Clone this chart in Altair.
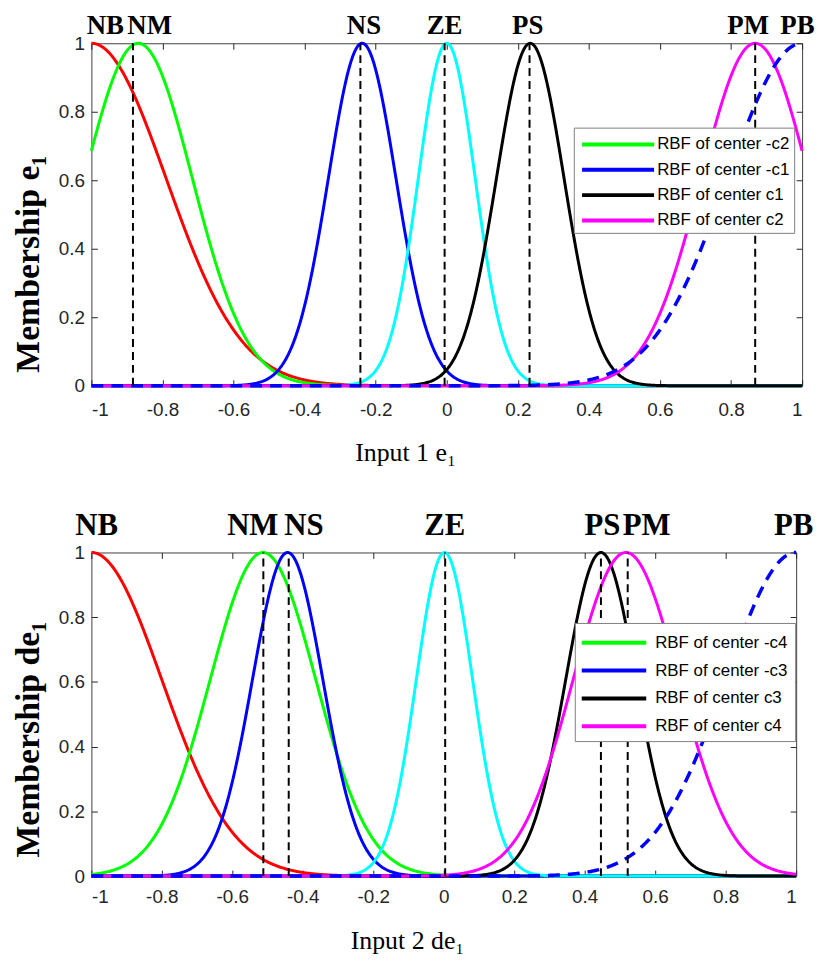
import altair as alt
import numpy as np
import pandas as pd

# ---------------- data ----------------
X_GRID = np.linspace(-1, 1, 801)

# panel 1 : Input 1 e1
p1_keys = ["NB", "-c2", "-c1", "ZE", "c1", "c2", "PB"]
p1_centers = [-1.0, -0.868, -0.238, 0.0, 0.235, 0.868, 1.0]
p1_sigmas = [0.21, 0.152, 0.095, 0.08, 0.095, 0.152, 0.21]
p1_legend = ["RBF of center -c2", "RBF of center -c1", "RBF of center c1", "RBF of center c2"]
p1_rules = [-0.883, -0.243, -0.006, 0.233, 0.868]
p1_tags = ["NB", "NM", "NS", "ZE", "PS", "PM", "PB"]
p1_tag_x = [-0.961, -0.836, -0.233, -0.006, 0.228, 0.848, 0.987]

# panel 2 : Input 2 de1
p2_keys = ["NB", "-c4", "-c3", "ZE", "c3", "c4", "PB"]
p2_centers = [-1.0, -0.513, -0.443, 0.002, 0.446, 0.517, 1.0]
p2_sigmas = [0.2, 0.15, 0.1, 0.08, 0.1, 0.15, 0.2]
p2_legend = ["RBF of center -c4", "RBF of center -c3", "RBF of center c3", "RBF of center c4"]
p2_rules = [-0.512, -0.44, 0.004, 0.446, 0.522]
p2_tags = ["NB", "NM", "NS", "ZE", "PS", "PM", "PB"]
p2_tag_x = [-0.985, -0.542, -0.397, 0.003, 0.45, 0.576, 0.993]

x_ticks = [-1, -0.8, -0.6, -0.4, -0.2, 0, 0.2, 0.4, 0.6, 0.8, 1]
y_ticks = [0, 0.2, 0.4, 0.6, 0.8, 1]

# colours in drawing order
series_colors = ["#FF0000", "#00FF00", "#0000FF", "#00FFFF", "#000000", "#FF00FF", "#0000FF"]
legend_colors = ["#00FF00", "#0000FF", "#000000", "#FF00FF"]

AX_COL = "#262626"
SANS = "Liberation Sans"
SERIF = "Liberation Serif"


def build_panel(keys, centers, sigmas, legend_labels, rules, tags, tag_x,
                ytitle, xtitle, W, H, leg, xtitle_x, ytitle_y, lab_pad_x,
                title_pad_x, title_pad_y, tag_size, tag_dy):
    rows = []
    leg_map = {k: lbl for k, lbl in zip(keys[1:3] + keys[4:6], legend_labels)}
    for k, c, s in zip(keys, centers, sigmas):
        yv = np.exp(-((X_GRID - c) ** 2) / (2 * s * s))
        for xv, yy in zip(X_GRID, yv):
            rows.append({"x": float(xv), "y": float(yy), "key": k,
                         "legend": leg_map.get(k, k)})
    df = pd.DataFrame(rows)

    xs = alt.Scale(domain=[-1, 1], nice=False, zero=False, padding=0)
    ys = alt.Scale(domain=[0, 1], nice=False, zero=False, padding=0)

    x_axis = alt.Axis(values=x_ticks, labelExpr="'' + datum.value", orient="bottom",
                      offset=-6, tickSize=6, domain=False, grid=False,
                      labelPadding=lab_pad_x, labelFont=SANS, labelFontSize=19,
                      labelColor=AX_COL, tickColor=AX_COL, tickWidth=1,
                      title=xtitle, titleFont=SERIF, titleFontSize=26,
                      titleFontWeight="normal", titleColor="black",
                      titlePadding=title_pad_x, titleX=xtitle_x)
    y_axis = alt.Axis(values=y_ticks, labelExpr="'' + datum.value", orient="left",
                      offset=-6, tickSize=6, domain=False, grid=False,
                      labelPadding=7, labelFont=SANS, labelFontSize=19,
                      labelColor=AX_COL, tickColor=AX_COL, tickWidth=1,
                      title=ytitle, titleFont=SERIF, titleFontSize=34,
                      titleFontWeight="bold", titleColor="black",
                      titlePadding=title_pad_y, titleY=ytitle_y)
    x_top = alt.Axis(values=x_ticks, orient="top", labels=False, offset=-6, tickSize=6,
                     domain=False, grid=False, tickColor=AX_COL, title=None)
    y_right = alt.Axis(values=y_ticks, orient="right", labels=False, offset=-6, tickSize=6,
                       domain=False, grid=False, tickColor=AX_COL, title=None)

    color = alt.Color("legend:N",
                      scale=alt.Scale(domain=legend_labels, range=legend_colors),
                      legend=alt.Legend(title=None, orient="none",
                                        legendX=leg["x"], legendY=leg["y"],
                                        symbolType=leg["path"], symbolSize=469,
                                        symbolStrokeWidth=4, labelFont=SANS,
                                        labelFontSize=17, labelColor="black",
                                        labelOffset=leg["lo"], padding=leg["pad"],
                                        rowPadding=leg["rp"], strokeColor="#808080",
                                        fillColor="white", labelLimit=400))

    layers = []
    for i, k in enumerate(keys):
        base = alt.Chart(df).transform_filter(alt.datum.key == k)
        xenc = alt.X("x:Q", scale=xs, axis=x_axis if i == 0 else None)
        yenc = alt.Y("y:Q", scale=ys, axis=y_axis if i == 0 else None)
        if k in leg_map:
            layer = base.mark_line(strokeWidth=3).encode(x=xenc, y=yenc, color=color)
        elif k == "PB":
            layer = base.mark_line(strokeWidth=3.5, color=series_colors[i],
                                   strokeDash=[12, 8]).encode(x=xenc, y=yenc)
        else:
            layer = base.mark_line(strokeWidth=3, color=series_colors[i]).encode(x=xenc, y=yenc)
        layers.append(layer)

    rdf = pd.DataFrame({"x": rules, "y0": [0.0] * len(rules), "y1": [1.0] * len(rules)})
    rule_layer = alt.Chart(rdf).mark_rule(color="black", strokeWidth=2,
                                          strokeDash=[8, 5]).encode(
        x=alt.X("x:Q", scale=xs, axis=x_top),
        y=alt.Y("y0:Q", scale=ys, axis=y_right),
        y2="y1:Q")
    layers.append(rule_layer)

    tdf = pd.DataFrame({"x": tag_x, "t": tags, "ty": [1.0] * len(tags)})
    tag_layer = alt.Chart(tdf).mark_text(font=SERIF, fontWeight="bold", fontSize=tag_size,
                                         baseline="alphabetic", align="center",
                                         dy=tag_dy, color="black").encode(
        x=alt.X("x:Q", scale=xs, axis=None),
        y=alt.Y("ty:Q", scale=ys, axis=None),
        text="t:N")
    layers.append(tag_layer)

    return alt.layer(*layers).resolve_axis(x="independent", y="independent").properties(
        width=W, height=H)


top = build_panel(p1_keys, p1_centers, p1_sigmas, p1_legend, p1_rules, p1_tags, p1_tag_x,
                  "Membership e\u2081", "Input 1 e\u2081", 716, 345,
                  {"x": 486, "y": 85, "path": "M-0.8,0H5.9", "lo": 54, "pad": 4, "rp": 4.5},
                  316, 222, 15, 20, 13, 27, -9)
bottom = build_panel(p2_keys, p2_centers, p2_sigmas, p2_legend, p2_rules, p2_tags, p2_tag_x,
                     "Membership de\u2081", "Input 2 de\u2081", 710, 326,
                     {"x": 487, "y": 71, "path": "M-1.2,0H4.8", "lo": 48, "pad": 7, "rp": 7},
                     318, 188, 12, 21, 13, 31, -18)

chart = alt.vconcat(top, bottom, spacing=43).resolve_scale(color="independent").properties(
    padding={"left": 3, "top": 0, "right": 0, "bottom": 0}, background="white"
).configure_view(stroke="#404040", strokeWidth=1)

chart.save("out.html", embed_options={"renderer": "svg", "actions": False})
